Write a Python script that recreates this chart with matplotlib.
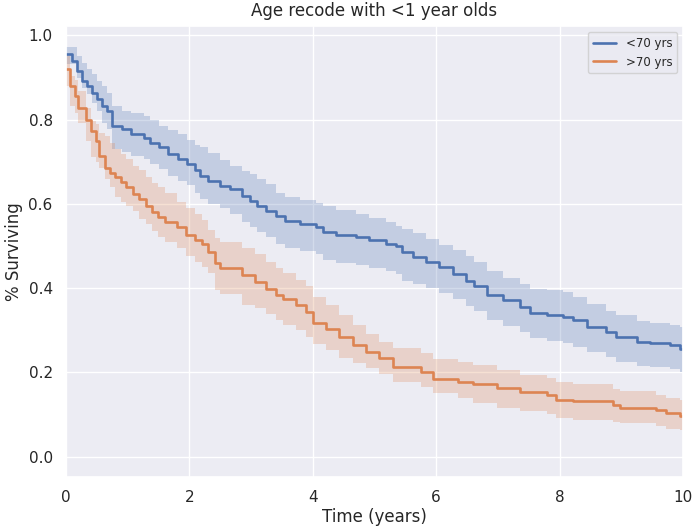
import numpy as np
import matplotlib
matplotlib.use("Agg")
import matplotlib.pyplot as plt
import seaborn as sns

sns.set_theme(style="darkgrid")
plt.rcParams['font.family'] = ['DejaVu Sans']

title = "Age recode with <1 year olds"
labels = ["<70 yrs", ">70 yrs"]

# <70 yrs
t_young = [0.0, 0.10, 0.18, 0.26, 0.34, 0.42, 0.51, 0.59, 0.67, 0.75, 0.91, 1.05, 1.27, 1.37,
           1.51, 1.65, 1.81, 1.97, 2.10, 2.18, 2.31, 2.50, 2.66, 2.85, 2.98, 3.10, 3.24, 3.40,
           3.55, 3.80, 4.05, 4.16, 4.37, 4.70, 4.91, 5.18, 5.35, 5.45, 5.62, 5.83, 6.05, 6.27,
           6.48, 6.62, 6.82, 7.09, 7.36, 7.52, 7.79, 8.06, 8.22, 8.44, 8.76, 8.92, 9.25, 9.46,
           9.79, 9.95]
s_young = [0.955, 0.938, 0.915, 0.891, 0.879, 0.864, 0.848, 0.832, 0.820, 0.785, 0.777, 0.766,
           0.757, 0.745, 0.734, 0.718, 0.706, 0.694, 0.680, 0.667, 0.655, 0.643, 0.635, 0.618,
           0.606, 0.596, 0.582, 0.570, 0.560, 0.552, 0.546, 0.533, 0.525, 0.521, 0.513, 0.505,
           0.500, 0.485, 0.474, 0.462, 0.450, 0.434, 0.418, 0.405, 0.383, 0.371, 0.355, 0.340,
           0.336, 0.332, 0.324, 0.308, 0.296, 0.284, 0.273, 0.269, 0.265, 0.255]
hi_young = [0.972, 0.972, 0.950, 0.935, 0.919, 0.907, 0.891, 0.879, 0.864, 0.832, 0.820, 0.816,
            0.809, 0.800, 0.785, 0.775, 0.765, 0.752, 0.740, 0.734, 0.720, 0.705, 0.690, 0.678,
            0.671, 0.660, 0.647, 0.625, 0.616, 0.610, 0.602, 0.595, 0.585, 0.575, 0.566, 0.556,
            0.548, 0.540, 0.530, 0.517, 0.503, 0.490, 0.475, 0.463, 0.440, 0.425, 0.410, 0.399,
            0.395, 0.390, 0.378, 0.362, 0.345, 0.335, 0.322, 0.318, 0.312, 0.308]
lo_young = [0.931, 0.931, 0.899, 0.875, 0.860, 0.840, 0.820, 0.793, 0.777, 0.730, 0.722, 0.714,
            0.706, 0.694, 0.683, 0.667, 0.655, 0.645, 0.625, 0.612, 0.600, 0.590, 0.576, 0.556,
            0.544, 0.532, 0.522, 0.505, 0.495, 0.489, 0.482, 0.466, 0.460, 0.455, 0.448, 0.440,
            0.434, 0.418, 0.410, 0.400, 0.389, 0.375, 0.358, 0.345, 0.324, 0.310, 0.295, 0.281,
            0.275, 0.269, 0.260, 0.248, 0.236, 0.225, 0.216, 0.213, 0.209, 0.202]

# >70 yrs
t_old = [0.0, 0.07, 0.15, 0.20, 0.32, 0.40, 0.48, 0.53, 0.64, 0.72, 0.80, 0.89, 0.97, 1.08,
         1.18, 1.29, 1.40, 1.50, 1.60, 1.80, 1.95, 2.10, 2.20, 2.31, 2.42, 2.50, 2.86, 3.07,
         3.24, 3.40, 3.52, 3.73, 3.89, 4.00, 4.22, 4.43, 4.65, 4.86, 5.08, 5.30, 5.75, 5.95,
         6.35, 6.60, 6.98, 7.36, 7.79, 7.95, 8.22, 8.87, 8.98, 9.57, 9.73, 9.95]
s_old = [0.919, 0.879, 0.855, 0.828, 0.800, 0.773, 0.749, 0.714, 0.686, 0.674, 0.663, 0.651,
         0.639, 0.624, 0.612, 0.596, 0.580, 0.568, 0.558, 0.544, 0.527, 0.515, 0.505, 0.485,
         0.460, 0.448, 0.432, 0.414, 0.397, 0.383, 0.373, 0.359, 0.343, 0.318, 0.304, 0.284,
         0.265, 0.249, 0.233, 0.213, 0.200, 0.185, 0.178, 0.172, 0.162, 0.154, 0.147, 0.135,
         0.131, 0.123, 0.115, 0.111, 0.103, 0.097]
hi_old = [0.950, 0.903, 0.895, 0.868, 0.828, 0.797, 0.790, 0.769, 0.760, 0.745, 0.730, 0.718,
          0.706, 0.690, 0.680, 0.663, 0.650, 0.639, 0.625, 0.605, 0.590, 0.575, 0.562, 0.537,
          0.520, 0.509, 0.495, 0.480, 0.462, 0.448, 0.435, 0.420, 0.405, 0.380, 0.360, 0.335,
          0.313, 0.292, 0.272, 0.257, 0.245, 0.232, 0.225, 0.218, 0.205, 0.194, 0.186, 0.176,
          0.172, 0.160, 0.155, 0.146, 0.140, 0.135]
lo_old = [0.879, 0.832, 0.815, 0.793, 0.749, 0.710, 0.700, 0.686, 0.660, 0.640, 0.615, 0.605,
          0.595, 0.584, 0.565, 0.553, 0.535, 0.521, 0.510, 0.495, 0.475, 0.462, 0.450, 0.435,
          0.395, 0.385, 0.360, 0.352, 0.338, 0.324, 0.312, 0.300, 0.285, 0.268, 0.252, 0.235,
          0.222, 0.210, 0.195, 0.178, 0.165, 0.150, 0.140, 0.128, 0.115, 0.108, 0.100, 0.091,
          0.087, 0.082, 0.080, 0.072, 0.066, 0.064]

t_end = 10.0
colors = ["#4C72B0", "#DD8452"]

fig = plt.figure(figsize=(6.94, 5.31), dpi=100)
ax = fig.add_axes([0.095, 0.102, 0.889, 0.849])
ax.set_facecolor("#ECECF3")

series = [(t_young, s_young, lo_young, hi_young), (t_old, s_old, lo_old, hi_old)]
for (t, s, lo, hi), lab, c in zip(series, labels, colors):
    tt = np.append(t, t_end)
    ss = np.append(s, s[-1])
    ll = np.append(lo, lo[-1])
    hh = np.append(hi, hi[-1])
    ax.fill_between(tt, ll, hh, step="post", color=c, alpha=0.25, linewidth=0)
    ax.step(tt, ss, where="post", color=c, linewidth=1.9, label=lab)

ax.set_xlim(0, 10)
ax.set_ylim(-0.048, 1.022)
ax.set_xticks([0, 2, 4, 6, 8, 10])
ax.set_yticks([0.0, 0.2, 0.4, 0.6, 0.8, 1.0])
ax.set_xlabel("Time (years)", fontsize=12, labelpad=2)
ax.set_ylabel("% Surviving", fontsize=12)
ax.set_title(title, fontsize=12, pad=7)
ax.tick_params(labelsize=11)
ax.legend(loc="upper right", fontsize=8.5)

fig.savefig("out.png", dpi=100)
